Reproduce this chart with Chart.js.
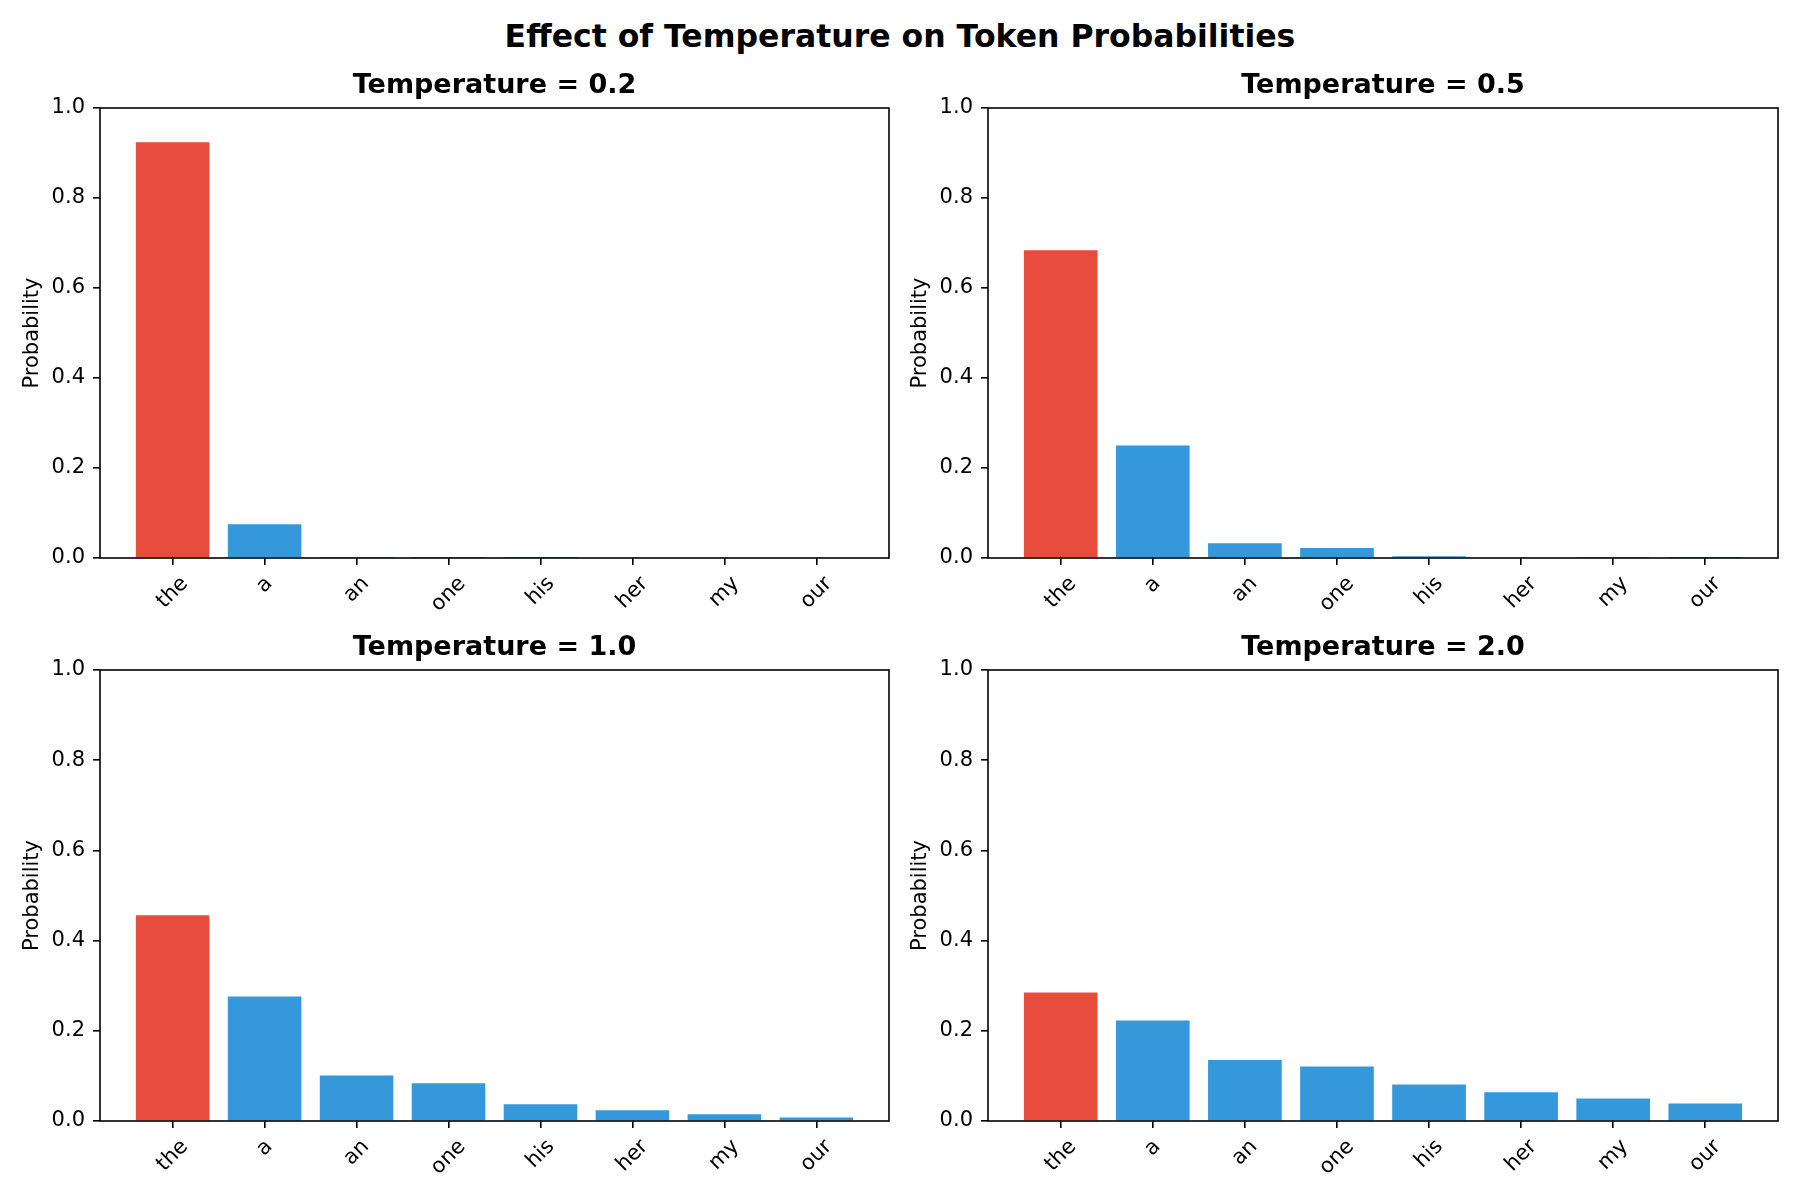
<!DOCTYPE html>
<html><head><meta charset="utf-8">
<script src="https://cdn.jsdelivr.net/npm/chart.js@4.4.0/dist/chart.umd.min.js"></script>
<style>
html,body{margin:0;padding:0;background:#fff;}
#fig{position:relative;width:1800px;height:1200px;overflow:hidden;background:#fff;}
#suptitle{position:absolute;left:0;top:18px;width:1800px;text-align:center;font-family:'DejaVu Sans';font-weight:bold;font-size:31.5px;line-height:36px;color:#000;}
canvas{position:absolute;}
</style></head><body>
<div id="fig">
<div id="suptitle">Effect of Temperature on Token Probabilities</div>
<canvas id="c0" width="895" height="570" style="left:0px;top:60px"></canvas>
<canvas id="c1" width="912" height="570" style="left:888px;top:60px"></canvas>
<canvas id="c2" width="895" height="578" style="left:0px;top:622px"></canvas>
<canvas id="c3" width="912" height="578" style="left:888px;top:622px"></canvas>
</div>
<script>
// ---- data ----
const tokens = ['the', 'a', 'an', 'one', 'his', 'her', 'my', 'our'];
const temperatures = ['0.2', '0.5', '1.0', '2.0'];
const probsT02 = [0.924, 0.075, 0.0006, 0.0003, 0.0001, 0.0, 0.0, 0.0];
const probsT05 = [0.684, 0.250, 0.033, 0.022, 0.004, 0.0015, 0.0005, 0.0002];
const probsT10 = [0.456, 0.276, 0.101, 0.0835, 0.037, 0.024, 0.015, 0.008];
const probsT20 = [0.285, 0.223, 0.135, 0.121, 0.081, 0.064, 0.050, 0.039];
const yTicks = [0.0, 0.2, 0.4, 0.6, 0.8, 1.0];
const highlightColor = '#e74c3c';
const baseColor = '#3498db';

const allProbs = [probsT02, probsT05, probsT10, probsT20];

Chart.defaults.font.family = "'DejaVu Sans'";
Chart.defaults.color = '#000';

// layout for each panel (canvas-relative)
const panelLayout = [
  {padRight: 6,  xAxisHeight: 72},
  {padRight: 22, xAxisHeight: 72},
  {padRight: 6,  xAxisHeight: 79},
  {padRight: 22, xAxisHeight: 79}
];

const TICK_FONT = 21;

const framePlugin = {
  id: 'frameAndLabels',
  afterDraw(chart) {
    const {ctx, chartArea: a} = chart;
    const xs = chart.scales.x;
    ctx.save();
    ctx.strokeStyle = '#000';
    ctx.lineWidth = 1.6;
    ctx.strokeRect(a.left, a.top, a.right - a.left, a.bottom - a.top);
    // rotated x tick labels, centred on each tick (matplotlib style)
    const fs = TICK_FONT;
    ctx.font = fs + "px 'DejaVu Sans'";
    ctx.fillStyle = '#000';
    ctx.textAlign = 'center';
    ctx.textBaseline = 'middle';
    xs.ticks.forEach(t => {
      const label = tokens[t.value];
      if (label === undefined) return;
      const px = xs.getPixelForValue(t.value);
      const w = ctx.measureText(label).width;
      const cy = a.bottom + 14 + (w + fs) * Math.SQRT1_2 / 2 + 1;
      ctx.save();
      ctx.translate(px, cy);
      ctx.rotate(-Math.PI / 4);
      ctx.fillText(label, 0, 0);
      ctx.restore();
    });
    ctx.restore();
  }
};

allProbs.forEach((probs, idx) => {
  const L = panelLayout[idx];
  new Chart(document.getElementById('c' + idx), {
    type: 'bar',
    data: {
      datasets: [{
        data: probs.map((v, i) => ({x: i, y: v})),
        backgroundColor: tokens.map((t, i) => i === 0 ? highlightColor : baseColor),
        borderWidth: 0,
        barPercentage: 0.8,
        categoryPercentage: 1.0
      }]
    },
    options: {
      responsive: false,
      animation: false,
      layout: {padding: {left: 0, right: L.padRight, top: 0, bottom: 0}},
      plugins: {
        legend: {display: false},
        tooltip: {enabled: false},
        title: {
          display: true,
          text: 'Temperature = ' + temperatures[idx],
          fullSize: false,
          font: {size: 27, weight: 'bold'},
          color: '#000',
          padding: {top: 10, bottom: 5.6}
        }
      },
      scales: {
        x: {
          type: 'linear',
          offset: false,
          min: -0.79,
          max: tokens.length - 1 + 0.79,
          afterBuildTicks: s => { s.ticks = tokens.map((t, i) => ({value: i})); },
          afterFit: s => { s.height = L.xAxisHeight; },
          ticks: {display: false},
          grid: {display: true, offset: false, drawOnChartArea: false, drawTicks: true, tickLength: 7,
                 color: '#000', tickColor: '#000', tickWidth: 1.6, lineWidth: 1.6},
          border: {display: false}
        },
        y: {
          type: 'linear',
          min: 0,
          max: 1,
          afterBuildTicks: s => { s.ticks = yTicks.map(v => ({value: v})); },
          afterFit: s => { s.width = 100; },
          ticks: {
            font: {size: TICK_FONT},
            color: '#000',
            padding: 8,
            callback: v => Number(v).toFixed(1)
          },
          grid: {display: true, drawOnChartArea: false, drawTicks: true, tickLength: 7,
                 color: '#000', tickColor: '#000', tickWidth: 1.6, lineWidth: 1.6},
          border: {display: false},
          title: {
            display: true,
            text: 'Probability',
            font: {size: 21},
            color: '#000',
            padding: {top: 20, bottom: 0}
          }
        }
      }
    },
    plugins: [framePlugin]
  });
});
</script>
</body></html>
